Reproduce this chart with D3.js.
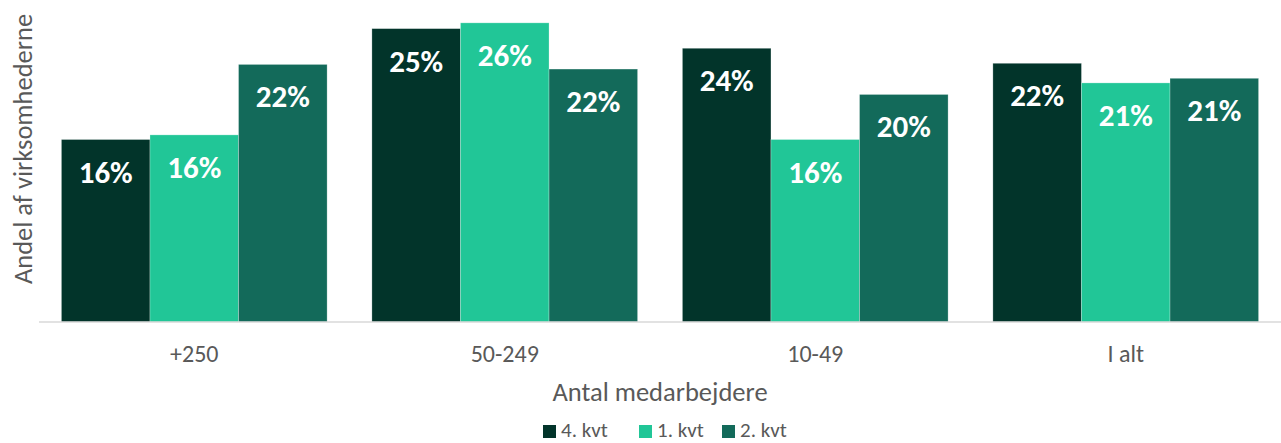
<!DOCTYPE html>
<html lang="da">
<head>
  <meta charset="UTF-8" />
  <title>Andel af virksomhederne</title>
  <script src="https://cdnjs.cloudflare.com/ajax/libs/d3/7.8.2/d3.min.js"></script>
  <style>
    body {
      margin: 0;
      padding: 0;
      background: #fff;
      font-family: Carlito, Calibri, "Open Sans", sans-serif;
    }
    svg {
      display: block;
      font-family: Carlito, Calibri, "Open Sans", sans-serif;
    }
    .bar-label {
      font-weight: bold;
      fill: #fff;
      font-size: 31px;
    }
    .axis-text {
      fill: #595959;
    }
  </style>
</head>
<body>

<svg id="chart" width="1281" height="443"></svg>

<script>
// Data
const categories = ["+250", "50-249", "10-49", "I alt"];
const seriesNames = ["4. kvt", "1. kvt", "2. kvt"];
const seriesColors = ["#02342A", "#21C697", "#136A5A"];
const kvt4 = [0.158, 0.254, 0.237, 0.224];
const kvt1 = [0.162, 0.259, 0.158, 0.207];
const kvt2 = [0.223, 0.219, 0.197, 0.211];
const seriesValues = [kvt4, kvt1, kvt2];

const width = 1281;
const height = 443;
const margin = { top: 0, right: 0, bottom: 121, left: 39 };
const baseline = height - margin.bottom;

const svg = d3.select("#chart");

// Scales
const x0 = d3.scaleBand()
  .domain(categories)
  .range([margin.left, width - margin.right])
  .paddingInner(0.1443)
  .paddingOuter(0.0722);

const x1 = d3.scaleBand()
  .domain(seriesNames)
  .range([0, x0.bandwidth()]);

const y = d3.scaleLinear()
  .domain([0, 0.28])
  .range([baseline, baseline - 0.28 * 1155]);

// Bars
const rows = categories.map((c, i) => ({
  cat: c,
  vals: seriesNames.map((s, j) => ({ s: s, v: seriesValues[j][i], color: seriesColors[j] }))
}));

const groups = svg.append("g").selectAll("g")
  .data(rows)
  .join("g")
  .attr("transform", d => `translate(${x0(d.cat)},0)`);

groups.selectAll("rect")
  .data(d => d.vals)
  .join("rect")
  .attr("x", d => x1(d.s))
  .attr("y", d => y(d.v))
  .attr("width", x1.bandwidth())
  .attr("height", d => y(0) - y(d.v))
  .attr("fill", d => d.color)
  .attr("stroke", "rgba(255,255,255,0.35)")
  .attr("stroke-width", 0.75);

groups.selectAll("text")
  .data(d => d.vals)
  .join("text")
  .attr("class", "bar-label")
  .attr("x", d => x1(d.s) + x1.bandwidth() / 2)
  .attr("y", d => y(d.v) + 43)
  .attr("text-anchor", "middle")
  .text(d => d3.format(".0%")(d.v));

// X axis (line + category labels)
const xAxis = svg.append("g")
  .attr("transform", `translate(0,${baseline})`)
  .call(d3.axisBottom(x0).tickSize(0))
  .attr("font-family", null)
  .attr("font-size", null);

xAxis.select(".domain")
  .attr("stroke", "#d9d9d9")
  .attr("stroke-width", 1.5)
  .attr("d", `M${margin.left},0H${width}`);

xAxis.selectAll(".tick text")
  .attr("class", "axis-text")
  .attr("fill", null)
  .style("font-size", "24px")
  .attr("y", 40)
  .attr("dy", null);

// Axis titles
svg.append("text")
  .attr("class", "axis-text")
  .attr("x", (margin.left + width) / 2)
  .attr("y", 401)
  .attr("text-anchor", "middle")
  .style("font-size", "26.5px")
  .text("Antal medarbejdere");

svg.append("text")
  .attr("class", "axis-text")
  .attr("transform", "translate(32,149) rotate(-90)")
  .attr("text-anchor", "middle")
  .style("font-size", "26.5px")
  .text("Andel af virksomhederne");

// Legend
const legendX = [543, 639, 722];
const legend = svg.append("g").selectAll("g")
  .data(seriesNames)
  .join("g")
  .attr("transform", (d, i) => `translate(${legendX[i]},425)`);

legend.append("rect")
  .attr("width", 13)
  .attr("height", 13)
  .attr("fill", (d, i) => seriesColors[i]);

legend.append("text")
  .attr("class", "axis-text")
  .attr("x", 18)
  .attr("y", 12)
  .style("font-size", "21px")
  .text(d => d);
</script>

</body>
</html>
